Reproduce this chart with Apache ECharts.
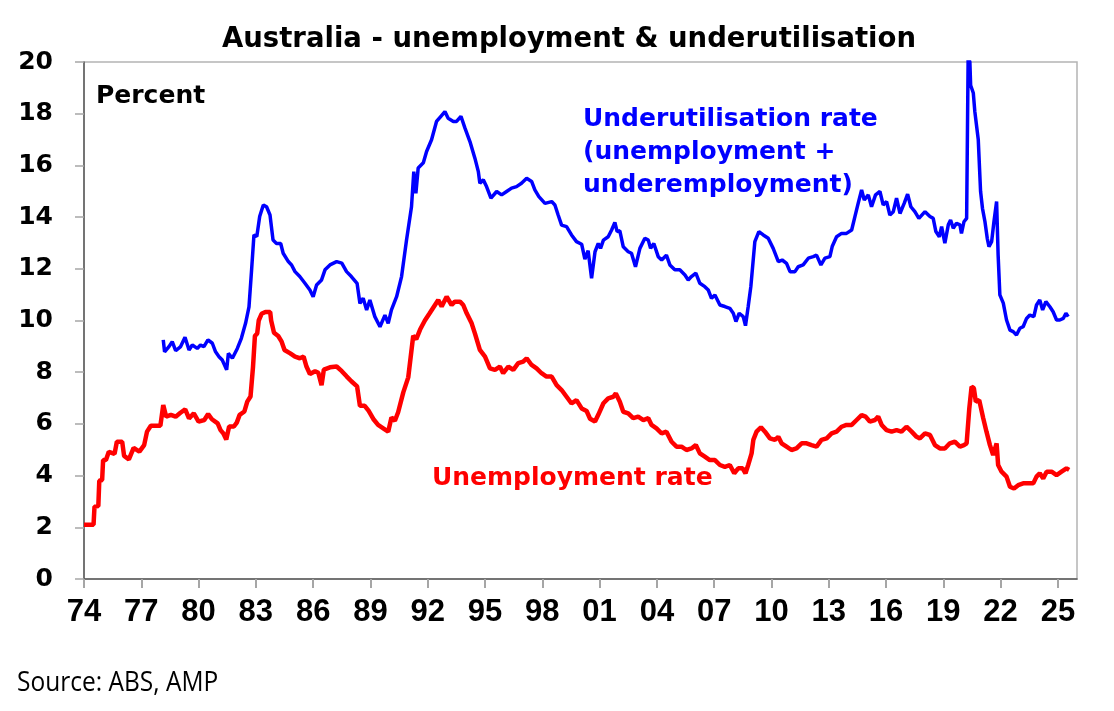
<!DOCTYPE html>
<html>
<head>
<meta charset="utf-8">
<script src="https://cdn.jsdelivr.net/npm/echarts@6/dist/echarts.min.js"></script>
<style>
  html, body { margin: 0; padding: 0; background: #fff; }
  #chart { width: 1114px; height: 711px; }
</style>
</head>
<body>
<div id="chart"></div>
<script>
// unemployment rate, %
var unempYears = [1974.0,1974.5,1974.55,1974.75,1974.8,1974.95,1975.0,1975.15,1975.3,1975.6,1975.72,1976.0,1976.1,1976.35,1976.6,1976.9,1977.15,1977.3,1977.5,1978.0,
  1978.15,1978.3,1978.55,1978.8,1979.05,1979.3,1979.5,1979.75,1980.0,1980.3,1980.5,1980.7,1981.0,1981.15,1981.3,1981.45,1981.6,1981.85,1982.0,1982.15,
  1982.4,1982.55,1982.72,1982.85,1982.95,1983.07,1983.15,1983.3,1983.5,1983.75,1983.8,1983.95,1984.17,1984.35,1984.5,1984.8,1985.05,1985.3,1985.5,1985.65,
  1985.83,1986.1,1986.27,1986.44,1986.56,1986.88,1987.23,1987.5,1987.75,1988.0,1988.3,1988.45,1988.7,1988.9,1989.15,1989.4,1989.67,1989.93,1990.1,1990.28,
  1990.45,1990.72,1990.98,1991.24,1991.4,1991.6,1991.85,1992.1,1992.38,1992.55,1992.73,1992.99,1993.25,1993.42,1993.69,1993.86,1994.04,1994.3,1994.47,1994.73,
  1995.0,1995.26,1995.52,1995.78,1995.95,1996.22,1996.48,1996.74,1997.0,1997.18,1997.44,1997.7,1997.96,1998.22,1998.49,1998.75,1999.01,1999.27,1999.53,1999.79,
  2000.06,2000.32,2000.5,2000.76,2000.93,2001.2,2001.45,2001.72,2001.85,2002.06,2002.24,2002.5,2002.76,2003.02,2003.29,2003.55,2003.72,2003.98,2004.25,2004.5,
  2004.77,2005.03,2005.29,2005.55,2005.81,2006.04,2006.25,2006.51,2006.77,2007.04,2007.3,2007.56,2007.82,2008.05,2008.26,2008.49,2008.64,2008.78,2008.96,2009.05,
  2009.22,2009.45,2009.66,2009.92,2010.18,2010.36,2010.53,2010.79,2011.05,2011.31,2011.58,2011.84,2012.1,2012.36,2012.62,2012.89,2013.15,2013.41,2013.67,2013.93,
  2014.2,2014.46,2014.72,2014.93,2015.15,2015.42,2015.59,2015.77,2016.03,2016.29,2016.55,2016.81,2017.07,2017.34,2017.6,2017.77,2018.04,2018.3,2018.56,2018.82,
  2019.08,2019.34,2019.6,2019.87,2020.08,2020.22,2020.36,2020.48,2020.6,2020.7,2020.88,2021.09,2021.26,2021.44,2021.61,2021.79,2021.87,2022.05,2022.31,2022.49,
  2022.7,2022.92,2023.18,2023.45,2023.71,2023.88,2024.05,2024.23,2024.41,2024.67,2024.93,2025.19,2025.45,2025.59];
var unempRate = [2.1,2.1,2.8,2.82,3.8,3.83,4.6,4.6,4.92,4.84,5.31,5.31,4.76,4.63,5.07,4.93,5.18,5.7,5.93,5.93,
  6.73,6.28,6.35,6.28,6.43,6.56,6.21,6.41,6.09,6.15,6.38,6.18,6.02,5.76,5.63,5.4,5.9,5.9,6.05,6.35,
  6.48,6.86,7.06,8.2,9.4,9.5,10.0,10.26,10.33,10.33,10.0,9.53,9.4,9.18,8.86,8.73,8.6,8.54,8.6,8.22,
  7.93,8.04,7.98,7.5,8.1,8.19,8.22,8.04,7.84,7.65,7.45,6.7,6.7,6.51,6.19,5.96,5.83,5.7,6.25,6.12,
  6.45,7.22,7.8,9.41,9.28,9.65,10.0,10.28,10.6,10.79,10.54,10.92,10.6,10.73,10.73,10.6,10.28,9.89,9.5,8.86,
  8.6,8.15,8.09,8.22,7.96,8.22,8.09,8.35,8.41,8.54,8.28,8.15,7.96,7.83,7.83,7.5,7.31,7.05,6.79,6.92,
  6.6,6.5,6.2,6.09,6.35,6.8,6.99,7.05,7.18,6.86,6.47,6.41,6.22,6.28,6.15,6.22,5.96,5.83,5.63,5.7,
  5.31,5.12,5.12,4.99,5.05,5.18,4.86,4.73,4.6,4.6,4.41,4.34,4.41,4.09,4.28,4.28,4.09,4.41,4.86,5.38,
  5.7,5.87,5.7,5.44,5.38,5.5,5.25,5.12,4.99,5.05,5.25,5.25,5.18,5.12,5.38,5.44,5.63,5.7,5.89,5.96,
  5.96,6.15,6.34,6.28,6.09,6.15,6.28,5.96,5.76,5.7,5.76,5.7,5.89,5.7,5.5,5.44,5.63,5.57,5.18,5.05,
  5.05,5.25,5.31,5.12,5.18,5.25,6.6,7.44,7.38,6.86,6.92,6.22,5.7,5.18,4.8,5.25,4.41,4.15,3.96,3.57,
  3.5,3.63,3.7,3.7,3.7,3.96,4.09,3.89,4.15,4.15,4.02,4.15,4.28,4.22];

// underutilisation rate, % (unemployment + underemployment)
var underYears = [1978.15,1978.22,1978.45,1978.62,1978.8,1979.06,1979.29,1979.5,1979.67,1979.93,1980.1,1980.28,1980.49,1980.72,1980.89,1981.07,1981.24,1981.47,1981.56,1981.77,
  1982.03,1982.24,1982.46,1982.64,1982.78,1982.9,1983.05,1983.2,1983.39,1983.56,1983.74,1983.9,1984.08,1984.3,1984.43,1984.7,1984.87,1985.05,1985.3,1985.57,
  1985.83,1986.0,1986.18,1986.44,1986.62,1986.88,1987.23,1987.5,1987.75,1988.0,1988.3,1988.45,1988.62,1988.8,1988.97,1989.23,1989.5,1989.76,1989.93,1990.1,
  1990.37,1990.63,1990.89,1991.15,1991.27,1991.38,1991.5,1991.77,1991.94,1992.2,1992.46,1992.69,1992.9,1993.07,1993.34,1993.51,1993.74,1993.95,1994.21,1994.47,
  1994.65,1994.73,1994.91,1995.08,1995.31,1995.61,1995.87,1996.13,1996.39,1996.65,1996.91,1997.18,1997.44,1997.61,1997.82,1998.14,1998.49,1998.66,1998.83,1999.01,
  1999.27,1999.53,1999.79,2000.06,2000.23,2000.4,2000.58,2000.76,2000.93,2001.05,2001.2,2001.45,2001.63,2001.8,2001.92,2002.06,2002.24,2002.5,2002.67,2002.88,
  2003.11,2003.37,2003.55,2003.67,2003.84,2004.07,2004.25,2004.5,2004.68,2004.94,2005.2,2005.47,2005.64,2005.81,2006.04,2006.25,2006.51,2006.69,2006.86,2007.04,
  2007.3,2007.56,2007.82,2008.0,2008.14,2008.31,2008.52,2008.64,2008.78,2008.92,2009.13,2009.34,2009.57,2009.83,2010.09,2010.36,2010.56,2010.79,2010.97,2011.23,
  2011.4,2011.66,2011.93,2012.19,2012.36,2012.59,2012.8,2013.06,2013.18,2013.41,2013.67,2013.93,2014.2,2014.37,2014.54,2014.72,2014.86,2015.07,2015.24,2015.45,
  2015.68,2015.85,2016.03,2016.2,2016.38,2016.55,2016.73,2016.95,2017.13,2017.3,2017.51,2017.72,2018.04,2018.3,2018.47,2018.61,2018.79,2018.91,2019.08,2019.26,
  2019.38,2019.52,2019.69,2019.87,2019.95,2020.08,2020.22,2020.3,2020.39,2020.43,2020.57,2020.65,2020.74,2020.83,2020.95,2021.05,2021.18,2021.3,2021.39,2021.53,
  2021.65,2021.79,2021.87,2021.96,2022.14,2022.31,2022.49,2022.66,2022.83,2023.01,2023.18,2023.36,2023.53,2023.74,2023.88,2024.05,2024.2,2024.37,2024.58,2024.75,
  2024.93,2025.1,2025.28,2025.42,2025.54];
var underRate = [9.25,8.79,8.99,9.18,8.83,8.99,9.35,8.86,9.05,8.92,9.05,8.99,9.25,9.12,8.79,8.6,8.47,8.09,8.73,8.54,
  8.92,9.31,9.89,10.53,12.0,13.31,13.25,14.02,14.47,14.4,14.08,13.11,12.98,12.98,12.6,12.28,12.15,11.89,11.7,11.44,
  11.18,10.92,11.37,11.57,11.96,12.15,12.28,12.22,11.89,11.7,11.44,10.66,10.86,10.41,10.79,10.15,9.76,10.21,9.89,10.41,
  10.92,11.7,13.11,14.4,15.76,14.92,15.9,16.1,16.54,16.99,17.7,17.9,18.08,17.82,17.7,17.7,17.9,17.44,16.92,16.28,
  15.76,15.31,15.44,15.18,14.73,14.99,14.86,14.99,15.12,15.18,15.31,15.5,15.38,15.05,14.79,14.53,14.6,14.47,14.08,13.69,
  13.63,13.31,13.05,12.95,12.37,12.7,11.63,12.66,12.98,12.79,13.11,13.24,13.5,13.79,13.44,13.47,12.85,12.66,12.6,12.08,
  12.79,13.18,13.11,12.79,12.98,12.47,12.34,12.53,12.15,11.96,11.96,11.76,11.57,11.7,11.83,11.44,11.31,11.18,10.86,10.99,
  10.6,10.54,10.47,10.28,9.96,10.28,10.15,9.8,10.53,11.31,13.05,13.44,13.31,13.18,12.79,12.28,12.34,12.21,11.89,11.89,
  12.08,12.15,12.41,12.47,12.53,12.15,12.41,12.47,12.86,13.24,13.37,13.37,13.5,14.02,14.53,15.05,14.66,14.86,14.4,14.86,
  14.99,14.47,14.6,14.08,14.21,14.73,14.14,14.53,14.89,14.4,14.21,13.95,14.21,14.02,13.95,13.44,13.24,13.63,12.99,13.7,
  13.89,13.57,13.76,13.7,13.37,13.82,13.95,20.2,20.0,19.1,18.8,18.08,18.08,16.99,15.0,14.34,13.82,13.18,12.86,13.05,
  13.82,14.6,12.53,10.99,10.67,10.02,9.63,9.57,9.44,9.7,9.76,10.08,10.21,10.15,10.6,10.79,10.41,10.73,10.53,10.34,
  10.02,10.02,10.08,10.28,10.15];

function pairs(xs, ys){
    var out = [];
    for (var i = 0; i < xs.length; i++) out.push([xs[i], ys[i]]);
    return out;
}

var myChart = echarts.init(document.getElementById('chart'));
var wide = 'DejaVu Sans, sans-serif';
var arial = 'Liberation Sans, Arial, sans-serif';

var option = {
    animation: false,
    backgroundColor: '#fff',
    grid: {
        left: 84, right: 37, top: 62, bottom: 132,
        show: true, borderColor: '#b4b4b4', borderWidth: 1.5
    },
    xAxis: {
        type: 'value',
        min: 1974, max: 2026, interval: 3,
        axisLine: { lineStyle: { color: '#595959', width: 1.5 } },
        axisTick: { show: true, length: 9, lineStyle: { color: '#a6a6a6', width: 2 } },
        splitLine: { show: false },
        axisLabel: {
            margin: 18, showMaxLabel: false,
            fontFamily: arial, fontSize: 31, fontWeight: 'bold', color: '#000',
            formatter: function (v) { return String(v).slice(2); }
        }
    },
    yAxis: {
        type: 'value',
        min: 0, max: 20, interval: 2,
        axisLine: { show: true, lineStyle: { color: '#595959', width: 1.5 } },
        axisTick: { show: true, length: 9, lineStyle: { color: '#a6a6a6', width: 1.5 } },
        splitLine: { show: false },
        axisLabel: { margin: 31, fontFamily: wide, fontSize: 25, fontWeight: 'bold', color: '#000' }
    },
    series: [{
        name: 'Underutilisation rate',
        type: 'line',
        data: pairs(underYears, underRate),
        showSymbol: false,
        clip: true,
        lineStyle: { color: '#0000ff', width: 3.5 },
        z: 3
    }, {
        name: 'Unemployment rate',
        type: 'line',
        data: pairs(unempYears, unempRate),
        showSymbol: false,
        clip: true,
        lineStyle: { color: '#ff0000', width: 4.5 },
        z: 4
    }],
    graphic: [{
        type: 'text', x: 569, y: 40,
        style: { text: 'Australia - unemployment & underutilisation', font: 'bold 27.5px ' + wide,
                 fill: '#000', textAlign: 'center', textVerticalAlign: 'middle' }
    }, {
        type: 'text', x: 96, y: 96,
        style: { text: 'Percent', font: 'bold 25px ' + wide, fill: '#000', textVerticalAlign: 'middle' }
    }, {
        type: 'text', x: 583, y: 119,
        style: { text: 'Underutilisation rate', font: 'bold 25px ' + wide, fill: '#0000ff', textVerticalAlign: 'middle' }
    }, {
        type: 'text', x: 583, y: 152,
        style: { text: '(unemployment +', font: 'bold 25px ' + wide, fill: '#0000ff', textVerticalAlign: 'middle' }
    }, {
        type: 'text', x: 583, y: 185,
        style: { text: 'underemployment)', font: 'bold 25px ' + wide, fill: '#0000ff', textVerticalAlign: 'middle' }
    }, {
        type: 'text', x: 432, y: 478,
        style: { text: 'Unemployment rate', font: 'bold 25px ' + wide, fill: '#ff0000', textVerticalAlign: 'middle' }
    }, {
        type: 'text', x: 17, y: 683, scaleY: 1.12,
        style: { text: 'Source: ABS, AMP', font: '24.5px Open Sans, sans-serif', fill: '#000', textVerticalAlign: 'middle' }
    }]
};
myChart.setOption(option);
</script>
</body>
</html>
